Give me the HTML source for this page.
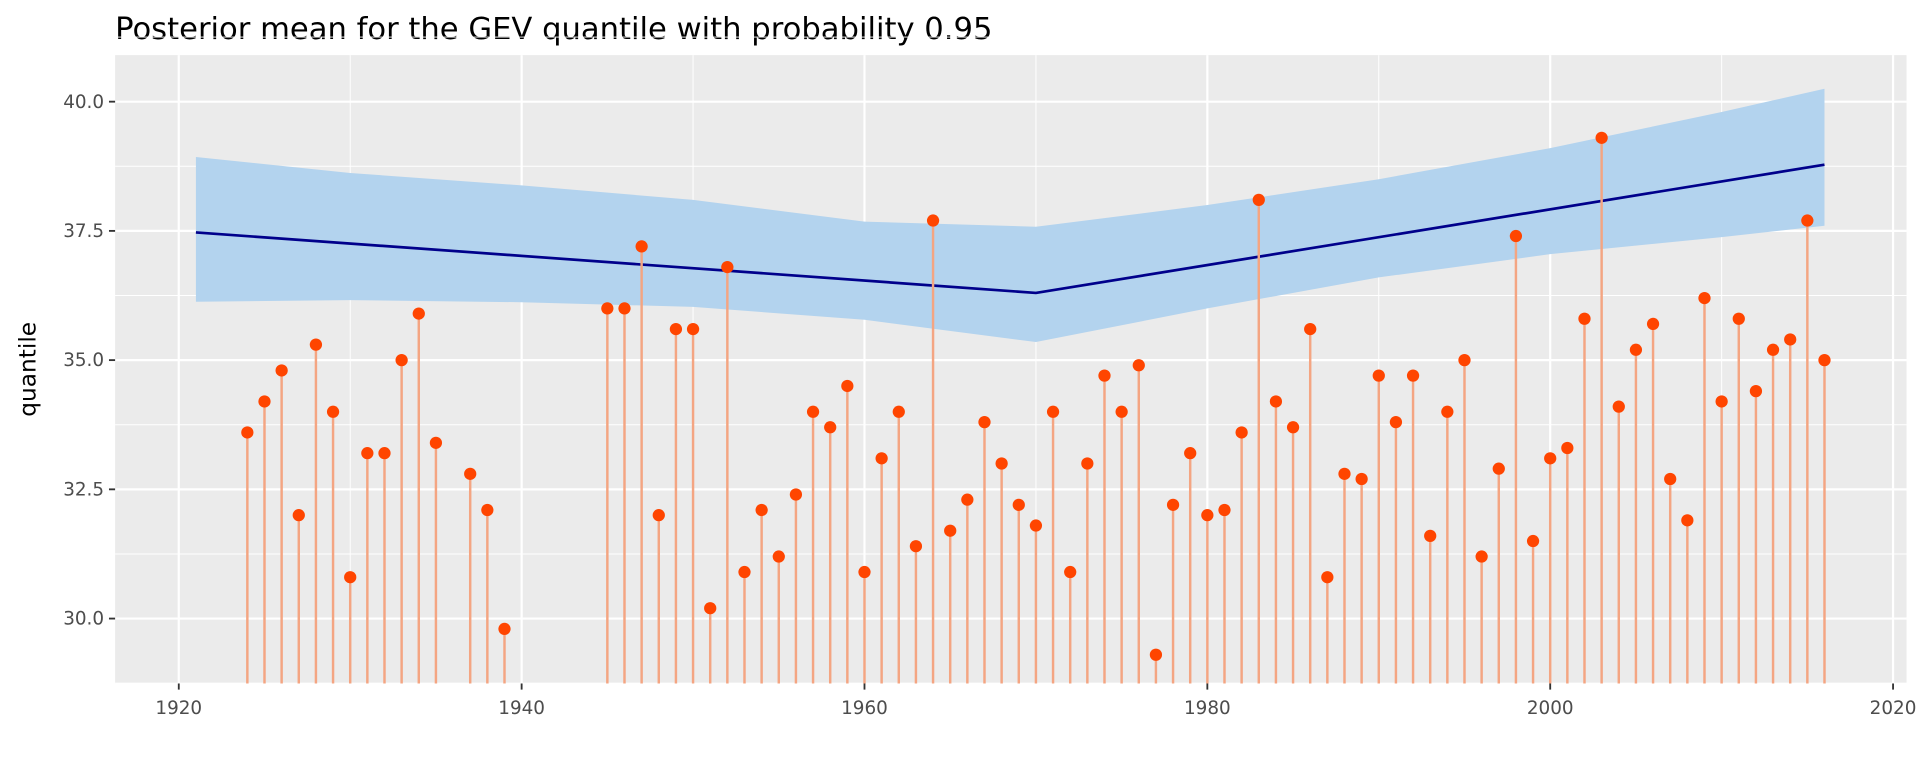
<!DOCTYPE html>
<html><head><meta charset="utf-8"><style>
body{margin:0;background:#fff;font-family:"DejaVu Sans","Liberation Sans",sans-serif;overflow:hidden}
svg text{font-family:"DejaVu Sans","Liberation Sans",sans-serif}
</style></head><body>
<svg id="chart" width="1920" height="768" viewBox="0 0 1568 627" preserveAspectRatio="none" xmlns="http://www.w3.org/2000/svg">
<text x="94" y="32" font-size="25" fill="#000">Posterior mean for the GEV quantile with probability 0.95</text>
<g id="plot"></g>
</svg>
<script>
const years=[1924,1925,1926,1927,1928,1929,1930,1931,1932,1933,1934,1935,1937,1938,1939,1945,1946,1947,1948,1949,1950,1951,1952,1953,1954,1955,1956,1957,1958,1959,1960,1961,1962,1963,1964,1965,1966,1967,1968,1969,1970,1971,1972,1973,1974,1975,1976,1977,1978,1979,1980,1981,1982,1983,1984,1985,1986,1987,1988,1989,1990,1991,1992,1993,1994,1995,1996,1997,1998,1999,2000,2001,2002,2003,2004,2005,2006,2007,2008,2009,2010,2011,2012,2013,2014,2015,2016];
const maxima=[33.6,34.2,34.8,32.0,35.3,34.0,30.8,33.2,33.2,35.0,35.9,33.4,32.8,32.1,29.8,36.0,36.0,37.2,32.0,35.6,35.6,30.2,36.8,30.9,32.1,31.2,32.4,34.0,33.7,34.5,30.9,33.1,34.0,31.4,37.7,31.7,32.3,33.8,33.0,32.2,31.8,34.0,30.9,33.0,34.7,34.0,34.9,29.3,32.2,33.2,32.0,32.1,33.6,38.1,34.2,33.7,35.6,30.8,32.8,32.7,34.7,33.8,34.7,31.6,34.0,35.0,31.2,32.9,37.4,31.5,33.1,33.3,35.8,39.3,34.1,35.2,35.7,32.7,31.9,36.2,34.2,35.8,34.4,35.2,35.4,37.7,35.0];
const bandYears=[1921,1930,1940,1950,1960,1970,1980,1990,2000,2010,2016];
const bandUpper=[38.93,38.62,38.38,38.1,37.68,37.58,38.0,38.5,39.1,39.8,40.25];
const bandLower=[36.13,36.16,36.12,36.03,35.78,35.35,36.0,36.6,37.05,37.38,37.6];
const meanYears=[1921,1970,2016];
const meanVals=[37.47,36.3,38.78];
const xTicks=[1920,1940,1960,1980,2000,2020];
const yTicks=[30.0,32.5,35.0,37.5,40.0];

const L=94,R=1557,T=45,B=558;
const X=y=>146+(y-1920)*14;
const Y=v=>83+(40-v)*42.2;
const NS="http://www.w3.org/2000/svg";
const g=document.getElementById('plot');
function mk(tag,attrs,parent){const e=document.createElementNS(NS,tag);for(const k in attrs)e.setAttribute(k,attrs[k]);(parent||g).appendChild(e);return e;}
let e=mk('rect',{x:L,y:T,width:R-L,height:B-T,fill:'#ebebeb'});


for(let i=0;i<xTicks.length-1;i++){const m=(xTicks[i]+xTicks[i+1])/2;mk('line',{x1:X(m),x2:X(m),y1:T,y2:B,stroke:'#fff','stroke-width':0.8});}
for(let i=0;i<yTicks.length-1;i++){const m=(yTicks[i]+yTicks[i+1])/2;mk('line',{x1:L,x2:R,y1:Y(m),y2:Y(m),stroke:'#fff','stroke-width':0.8});}
mk('line',{x1:L,x2:R,y1:Y(28.75),y2:Y(28.75),stroke:'#fff','stroke-width':0.8});
mk('line',{x1:L,x2:R,y1:Y(41.25),y2:Y(41.25),stroke:'#fff','stroke-width':0.8});
xTicks.forEach(t=>{
 mk('line',{x1:X(t),x2:X(t),y1:T,y2:B,stroke:'#fff','stroke-width':1.8});
 mk('line',{x1:X(t),x2:X(t),y1:B,y2:B+5,stroke:'#333','stroke-width':1.5});
 e=mk('text',{x:X(t),y:B+25,'text-anchor':'middle','font-size':15,fill:'#4d4d4d'});e.textContent=t;
 
 
});
yTicks.forEach(t=>{
 mk('line',{x1:L,x2:R,y1:Y(t),y2:Y(t),stroke:'#fff','stroke-width':1.8});
 mk('line',{x1:L-5,x2:L,y1:Y(t),y2:Y(t),stroke:'#333','stroke-width':1.5});
 e=mk('text',{x:L-9,y:Y(t)+5,'text-anchor':'end','font-size':15,fill:'#4d4d4d'});e.textContent=t.toFixed(1);
 
 
});
let d='';bandYears.forEach((y,i)=>{d+=(i?'L':'M')+X(y)+','+Y(bandUpper[i]);});
for(let i=bandYears.length-1;i>=0;i--)d+='L'+X(bandYears[i])+','+Y(bandLower[i]);
e=mk('path',{d:d+'Z',fill:'#b3d3ee'});


e=mk('polyline',{points:meanYears.map((y,i)=>X(y)+','+Y(meanVals[i])).join(' '),fill:'none',stroke:'#00008b','stroke-width':2.2});


years.forEach((y,i)=>{
 e=mk('line',{x1:X(y),x2:X(y),y1:B,y2:Y(maxima[i]),stroke:'#f4a582','stroke-width':2});
 
 
});
years.forEach((y,i)=>{
 e=mk('circle',{cx:X(y),cy:Y(maxima[i]),r:5,fill:'#ff4500'});
 
 
});
e=mk('text',{x:0,y:0,transform:'translate(29,'+((T+B)/2)+') rotate(-90)','text-anchor':'middle','font-size':19,fill:'#000'});e.textContent='quantile';


</script>
</body></html>
